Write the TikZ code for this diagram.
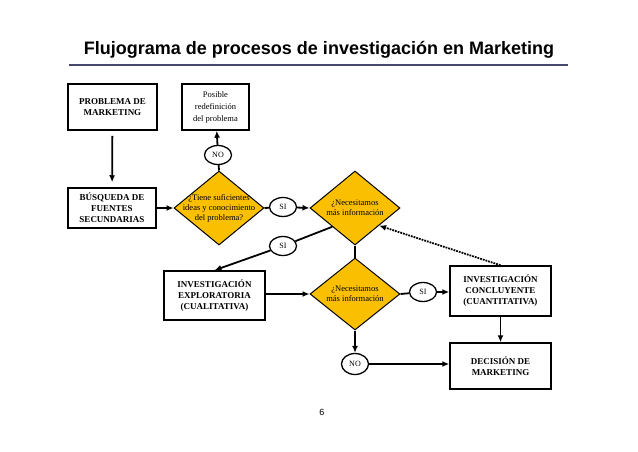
\documentclass[tikz,border=0pt]{standalone}
\usepackage{fontspec}
\setmainfont{Liberation Serif}
\newfontfamily\titlefont{Liberation Sans}
\usetikzlibrary{shapes.geometric,arrows.meta,calc}
\definecolor{gold}{RGB}{250,192,0}
\definecolor{rulecol}{RGB}{70,72,110}
\begin{document}
\begin{tikzpicture}[x=1pt,y=-1pt,
  box/.style={draw, line width=1.5pt, fill=white, align=center, font=\fontsize{9}{11}\selectfont\bfseries, inner sep=0pt},
  dia/.style={diamond, draw, line width=1pt, fill=gold, inner sep=0pt, minimum width=90pt, minimum height=74pt},
  dtext/.style={align=center, font=\fontsize{8.5}{10}\selectfont},
  oval/.style={ellipse, draw, line width=1.3pt, fill=white, minimum width=27pt, minimum height=19pt, inner sep=0pt, font=\fontsize{8}{9}\selectfont},
  arr/.style={line width=1.8pt, -{Latex[length=7pt,width=6pt]}},
  ln/.style={line width=1.8pt}]
\useasboundingbox (0,0) rectangle (638,451);
% title
\node (title) at (319,50) {\titlefont\bfseries\fontsize{18}{20}\selectfont Flujograma de procesos de investigación en Marketing};
\coordinate (r1) at (69,65);
\coordinate (r2) at (568,65);
\draw[rulecol, line width=1.3pt] (r1) -- (r2);
% boxes
\node[box, minimum width=89pt, minimum height=46pt] (prob) at (112.5,107) {PROBLEMA DE\\MARKETING};
\node[box, minimum width=67pt, minimum height=46pt, font=\fontsize{8.5}{12}\selectfont] (pos) at (215.5,107) {Posible\\redefinición\\del problema};
\node[box, minimum width=88pt, minimum height=40pt] (bus) at (112,208) {BÚSQUEDA DE\\FUENTES\\SECUNDARIAS};
\node[box, minimum width=101pt, minimum height=49pt] (expl) at (214.5,295.5) {INVESTIGACIÓN\\EXPLORATORIA\\(CUALITATIVA)};
\node[box, minimum width=101pt, minimum height=50pt] (conc) at (500.5,291) {INVESTIGACIÓN\\CONCLUYENTE\\(CUANTITATIVA)};
\node[box, minimum width=101pt, minimum height=46pt] (dec) at (500.5,366) {DECISIÓN DE\\MARKETING};
% diamonds
\node[dia] (d1) at (219,208) {};
\node[dtext] (t1) at (d1) {¿Tiene suficientes\\ideas y conocimiento\\del problema?};
\node[dia] (d2) at (355,208) {};
\node[dtext] (t2) at (d2) {¿Necesitamos\\más información};
\node[dia, minimum height=72pt] (d3) at (355,294) {};
\node[dtext] (t3) at (d3) {¿Necesitamos\\más información};
% ovals
\node[oval] (no1) at (218,155) {NO};
\node[oval] (si1) at (283,207) {SI};
\node[oval] (si2) at (283,246) {SI};
\node[oval] (si3) at (423,292) {SI};
\node[oval, minimum height=21pt] (no2) at (355,364) {NO};
% connectors
\draw[arr, shorten <=5pt, shorten >=5pt] (prob) -- (bus);
\draw[ln] (d1.north) -- (no1);
\draw[arr] (no1) -- (pos);
\draw[arr] (bus.east |- d1.west) -- (d1.west);
\draw[ln] (d1.east) -- (si1);
\draw[arr] (si1) -- (d2.west);
\coordinate (d2sw) at ($(d2.west)!0.5!(d2.south)$);
\draw[ln] (d2sw) -- (si2);
\draw[arr] (si2) -- (expl.north);
\draw[ln] (d2.south) -- (d3.north);
\draw[arr] (expl.east |- d3.west) -- (d3.west);
\draw[ln] (d3.east) -- (si3);
\draw[arr] (si3) -- (conc.west |- si3);
\draw[arr] (conc) -- (dec);
\draw[arr] (d3.south) -- (no2);
\draw[arr] (no2) -- (dec.west |- no2);
\coordinate (d2se) at ($(d2.east)!0.47!(d2.south)$);
\draw[arr, densely dotted] (conc.north) -- (d2se);
% page number
\node (pg) at (322,412) {\titlefont\fontsize{9}{10}\selectfont 6};
\end{tikzpicture}
\end{document}
